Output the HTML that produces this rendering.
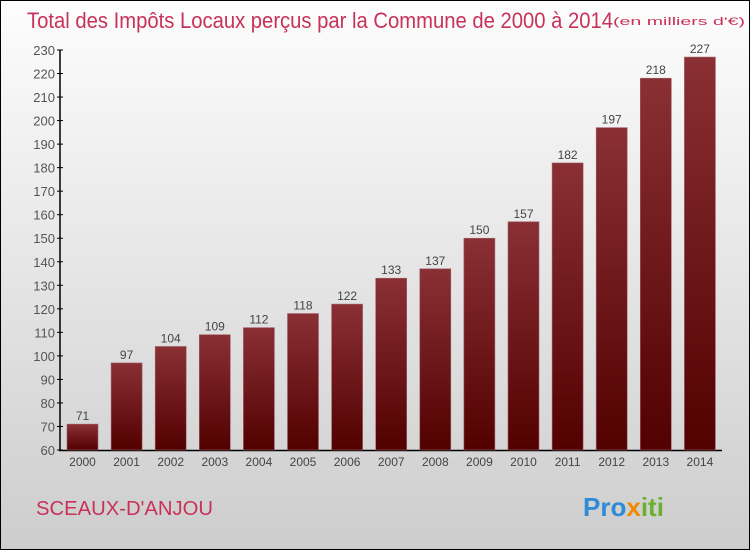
<!DOCTYPE html>
<html><head><meta charset="utf-8"><style>
body{margin:0}
#c{width:750px;height:550px;position:relative;box-sizing:border-box;border:1px solid #000;background:linear-gradient(#fdfdfd,#cdcdcd);font-family:"Liberation Sans",sans-serif;overflow:hidden}
</style></head><body>
<div id="c">
<svg width="748" height="548" viewBox="1 1 748 548" id="s">
<defs><linearGradient id="g" x1="0" y1="0" x2="0" y2="1"><stop offset="0" stop-color="#8a3035"/><stop offset="1" stop-color="#520000"/></linearGradient></defs>
<text x="27" y="28" font-size="22" fill="#c8325a" textLength="586" lengthAdjust="spacingAndGlyphs">Total des Impôts Locaux perçus par la Commune de 2000 à 2014</text>
<text x="613" y="25" font-size="11" fill="#c8325a" textLength="132" lengthAdjust="spacingAndGlyphs">(en milliers d'€)</text>
<text x="36" y="515" font-size="20" fill="#c8325a" textLength="177" lengthAdjust="spacingAndGlyphs">SCEAUX-D'ANJOU</text>
<text x="583" y="516" font-size="26" font-weight="bold"><tspan fill="#2f8ad8">Pro</tspan><tspan fill="#f08a00">x</tspan><tspan fill="#6cb030">iti</tspan></text>
<g id="p"></g>
</svg></div>
<script>
const years=["2000","2001","2002","2003","2004","2005","2006","2007","2008","2009","2010","2011","2012","2013","2014"];
const values=[71,97,104,109,112,118,122,133,137,150,157,182,197,218,227];
const ticks=[60,70,80,90,100,110,120,130,140,150,160,170,180,190,200,210,220,230];
const NS="http://www.w3.org/2000/svg",p=document.getElementById('p');
const y=v=>450-(v-60)*(400/170);
const x=i=>67+i*44.1;
function mk(t,a,txt){const e=document.createElementNS(NS,t);for(const k in a)e.setAttribute(k,a[k]);if(txt!==undefined)e.textContent=txt;p.appendChild(e);return e;}
let e=mk('line',{x1:60,y1:y(230),x2:60,y2:451,stroke:'#000','stroke-width':1.5});

e=mk('line',{x1:59,y1:450.5,x2:722,y2:450.5,stroke:'#000','stroke-width':1.5});

ticks.forEach(t=>{
 e=mk('line',{x1:57,y1:y(t),x2:63,y2:y(t),stroke:'#000'});
 
 e=mk('text',{x:55,y:y(t)+5,'font-size':13,fill:'#555','text-anchor':'end'},t);
 
});
years.forEach((yr,i)=>{
 const v=values[i];
 e=mk('rect',{x:x(i),y:y(v),width:31,height:450-y(v),fill:'url(#g)',stroke:'#a06068','stroke-width':0.6});
 
 e=mk('text',{x:x(i)+15.5,y:y(v)-4,'font-size':12,fill:'#444','text-anchor':'middle'},v);
 
 e=mk('text',{x:x(i)+15.5,y:466,'font-size':12,fill:'#444','text-anchor':'middle'},yr);
 
});
</script>
</body></html>
